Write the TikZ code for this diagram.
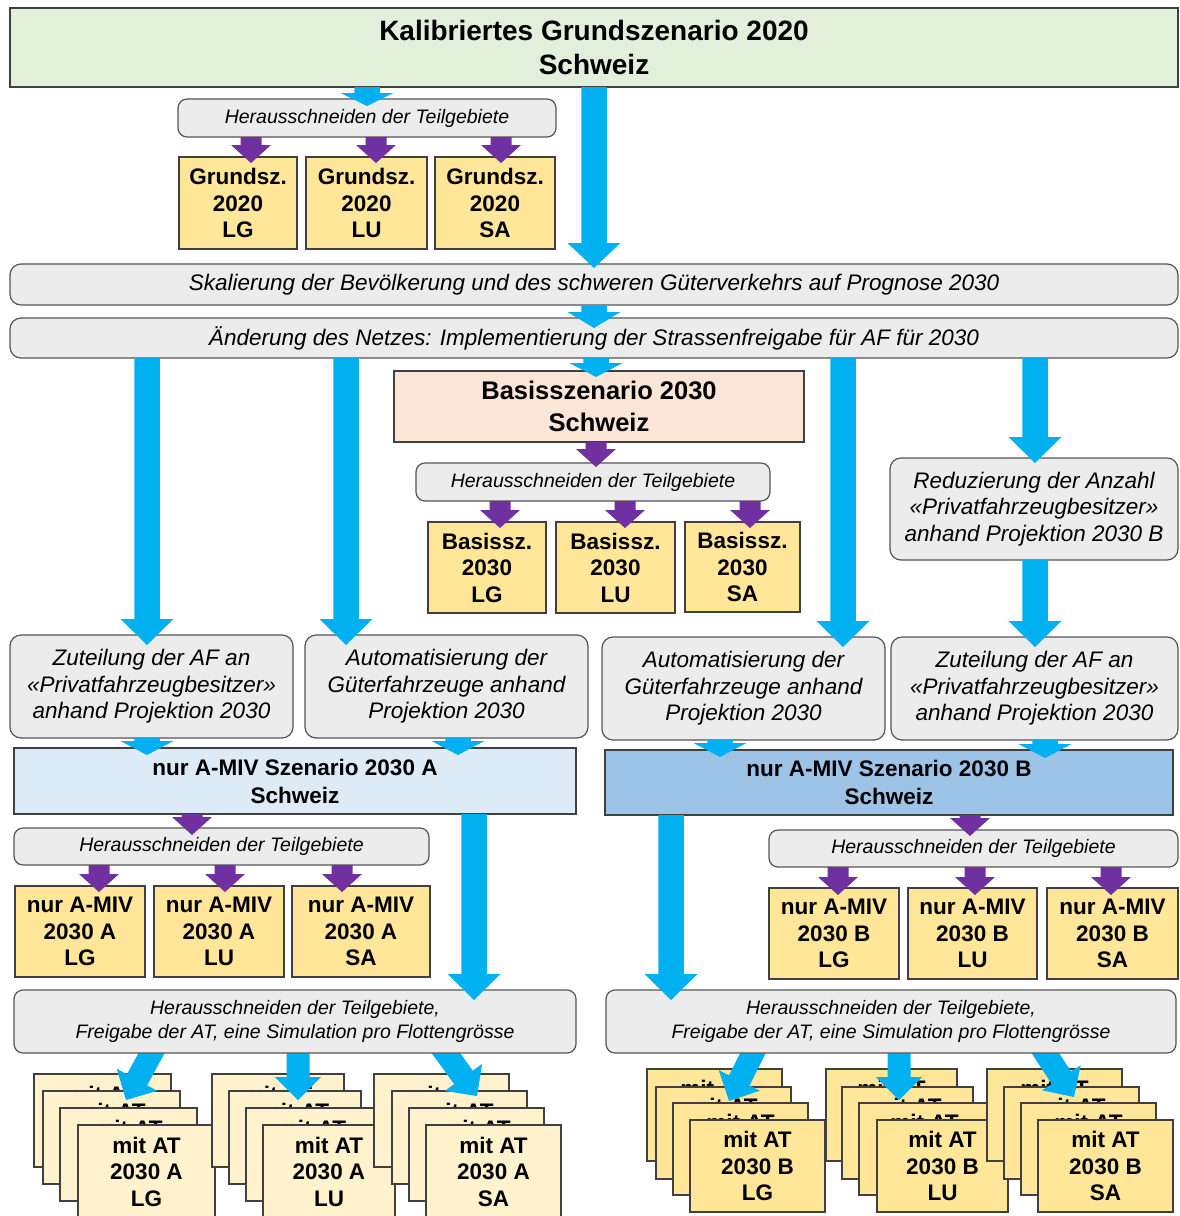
\documentclass[tikz,border=0pt]{standalone}
\usepackage{fontspec}
\setmainfont{Liberation Sans}
\usetikzlibrary{calc}
\definecolor{cGreen}{RGB}{226,239,218}
\definecolor{cGray}{RGB}{236,236,236}
\definecolor{cYel}{RGB}{255,230,153}
\definecolor{cLYel}{RGB}{255,242,204}
\definecolor{cPeach}{RGB}{251,229,214}
\definecolor{cLBlue}{RGB}{221,235,247}
\definecolor{cMBlue}{RGB}{157,195,230}
\definecolor{cArrB}{RGB}{0,176,240}
\definecolor{cArrP}{RGB}{112,48,160}
\definecolor{cLine}{RGB}{64,64,64}
\definecolor{cGLine}{RGB}{85,85,85}
\pgfdeclarelayer{stack}
\pgfdeclarelayer{botarr}
\pgfdeclarelayer{front}
\pgfsetlayers{stack,botarr,main,front}
\tikzset{
  base/.style={inner sep=0pt, outer sep=0pt, anchor=north west, align=center, line width=1.2pt},
  rectbox/.style={base, draw=cLine},
  grn/.style={rectbox, fill=cGreen, font=\fontsize{28}{34}\selectfont\bfseries},
  yel/.style={rectbox, fill=cYel, font=\fontsize{22.5}{26.5}\selectfont\bfseries},
  lyel/.style={rectbox, fill=cLYel, font=\fontsize{22.5}{26.5}\selectfont\bfseries},
  peach/.style={rectbox, fill=cPeach, font=\fontsize{25.5}{32}\selectfont\bfseries},
  lblue/.style={rectbox, fill=cLBlue, font=\fontsize{22.5}{28}\selectfont\bfseries},
  mblue/.style={rectbox, fill=cMBlue, font=\fontsize{22.5}{28}\selectfont\bfseries},
  gbox/.style={base, draw=cGLine, fill=cGray, rounded corners=11pt, font=\fontsize{22.5}{26.5}\selectfont\itshape},
  gsmall/.style={base, draw=cGLine, fill=cGray, rounded corners=9pt, font=\fontsize{19.5}{24}\selectfont\itshape},
}
% box by corners: name, x1, y1, x2, y2, style, text
\newcommand\bx[7]{\node[#6, minimum width={#4-#2}, minimum height={#5-#3}] (#1) at (#2,#3) {#7};}
% block arrow between two named coordinates
\newcommand\blockarr[6]{%
  \coordinate (ba-h) at ($(#2)!#6pt!(#1)$);
  \fill[#3] ($(#1)!#4pt!90:(#2)$) -- ($(ba-h)!#4pt!90:(#2)$) -- ($(ba-h)!#5pt!90:(#2)$) -- (#2)
    -- ($(ba-h)!#5pt!-90:(#2)$) -- ($(ba-h)!#4pt!-90:(#2)$) -- ($(#1)!#4pt!-90:(#2)$) -- cycle;}
% vertical arrow: src, tgt, x, depth, shaft half, head half, head length, colour
\newcommand\varr[8]{%
  \coordinate (va-s) at (#1.south -| #3,0);
  \coordinate (va-e) at ($(#2.north -| #3,0)+(0,#4)$);
  \blockarr{va-s}{va-e}{#8}{#5}{#6}{#7}}
\newcommand\bv[5]{\varr{#1}{#2}{#3}{#4}{12.75}{26.5}{#5}{cArrB}}
\newcommand\pv[4]{\varr{#1}{#2}{#3}{#4}{10.5}{20}{18}{cArrP}}
% bottom arrow: src, x, target node, dx, dy
\newcommand\darr[5]{%
  \coordinate (da-s) at ($(#1.south -| #2,0)+(0,-8)$);
  \coordinate (da-e) at ($(#3.north west)+(#4,#5)$);
  \blockarr{da-s}{da-e}{cArrB}{11.5}{23}{23}}
\begin{document}
\begin{tikzpicture}[x=1pt,y=-1pt]
\useasboundingbox (0,0) rectangle (1179,1216);
\begin{pgfonlayer}{stack}
\fill[white] (0,0) rectangle (1179,1216);
\end{pgfonlayer}
% main boxes
\bx{top}{10}{8}{1178}{87}{grn}{Kalibriertes Grundszenario 2020\\Schweiz}
\bx{h1}{178}{99}{556}{137}{gsmall}{Herausschneiden der Teilgebiete}
\bx{g1}{179}{157}{297}{249}{yel}{Grundsz.\\2020\\LG}
\bx{g2}{306}{157}{427}{249}{yel}{Grundsz.\\2020\\LU}
\bx{g3}{435}{157}{555}{249}{yel}{Grundsz.\\2020\\SA}
\bx{skal}{10}{264}{1178}{305}{gbox}{Skalierung der Bevölkerung und des schweren Güterverkehrs auf Prognose 2030}
\bx{aend}{10}{318}{1178}{358}{gbox}{Änderung des Netzes: Implementierung der Strassenfreigabe für AF für 2030}
\bx{basis}{394}{371}{804}{442}{peach}{Basisszenario 2030\\Schweiz}
\bx{h2}{416}{463}{770}{501}{gsmall}{Herausschneiden der Teilgebiete}
\bx{b1}{428}{522}{546}{613}{yel}{Basissz.\\2030\\LG}
\bx{b2}{556}{522}{675}{613}{yel}{Basissz.\\2030\\LU}
\bx{b3}{685}{522}{800}{612}{yel}{Basissz.\\2030\\SA}
\bx{red}{890}{458}{1178}{560}{gbox}{Reduzierung der Anzahl\\«Privatfahrzeugbesitzer»\\anhand Projektion 2030 B}
\bx{zA}{10}{635}{293}{738}{gbox}{Zuteilung der AF an\\«Privatfahrzeugbesitzer»\\anhand Projektion 2030}
\bx{autA}{305}{635}{588}{738}{gbox}{Automatisierung der\\Güterfahrzeuge anhand\\Projektion 2030}
\bx{autB}{602}{637}{885}{740}{gbox}{Automatisierung der\\Güterfahrzeuge anhand\\Projektion 2030}
\bx{zB}{891}{637}{1178}{740}{gbox}{Zuteilung der AF an\\«Privatfahrzeugbesitzer»\\anhand Projektion 2030}
\bx{mivA}{14}{748}{576}{814}{lblue}{nur A-MIV Szenario 2030 A\\Schweiz}
\bx{mivB}{605}{750}{1173}{815}{mblue}{nur A-MIV Szenario 2030 B\\Schweiz}
\bx{hA}{14}{828}{429}{865}{gsmall}{Herausschneiden der Teilgebiete}
\bx{mA1}{15}{886}{145}{977}{yel}{nur A-MIV\\2030 A\\LG}
\bx{mA2}{154}{886}{284}{977}{yel}{nur A-MIV\\2030 A\\LU}
\bx{mA3}{292}{886}{430}{977}{yel}{nur A-MIV\\2030 A\\SA}
\bx{fA}{14}{990}{576}{1053}{gsmall}{Herausschneiden der Teilgebiete,\\Freigabe der AT, eine Simulation pro Flottengrösse}
\bx{hB}{769}{830}{1178}{867}{gsmall}{Herausschneiden der Teilgebiete}
\bx{mB1}{769}{888}{899}{979}{yel}{nur A-MIV\\2030 B\\LG}
\bx{mB2}{908}{888}{1037}{979}{yel}{nur A-MIV\\2030 B\\LU}
\bx{mB3}{1047}{888}{1178}{979}{yel}{nur A-MIV\\2030 B\\SA}
\bx{fB}{606}{990}{1176}{1053}{gsmall}{Herausschneiden der Teilgebiete,\\Freigabe der AT, eine Simulation pro Flottengrösse}
% stacks of result boxes
\begin{pgfonlayer}{stack}
\bx{aLG1}{34}{1074}{171}{1167}{lyel}{mit AT\\2030 A\\LG}
\bx{aLG2}{43}{1091}{180}{1184}{lyel}{mit AT\\2030 A\\LG}
\bx{aLG3}{60}{1108}{197}{1201}{lyel}{mit AT\\2030 A\\LG}
\bx{aLG4}{78}{1125}{215}{1218}{lyel}{mit AT\\2030 A\\LG}
\bx{aLU1}{212}{1074}{344}{1167}{lyel}{mit AT\\2030 A\\LU}
\bx{aLU2}{229}{1091}{361}{1184}{lyel}{mit AT\\2030 A\\LU}
\bx{aLU3}{246}{1108}{378}{1201}{lyel}{mit AT\\2030 A\\LU}
\bx{aLU4}{263}{1125}{395}{1218}{lyel}{mit AT\\2030 A\\LU}
\bx{aSA1}{374}{1074}{509}{1167}{lyel}{mit AT\\2030 A\\SA}
\bx{aSA2}{392}{1091}{527}{1184}{lyel}{mit AT\\2030 A\\SA}
\bx{aSA3}{409}{1108}{544}{1201}{lyel}{mit AT\\2030 A\\SA}
\bx{aSA4}{426}{1125}{561}{1218}{lyel}{mit AT\\2030 A\\SA}
\bx{bLG1}{647}{1069}{782}{1161}{yel}{mit AT\\2030 B\\LG}
\bx{bLG2}{656}{1087}{791}{1179}{yel}{mit AT\\2030 B\\LG}
\bx{bLG3}{673}{1103}{808}{1195}{yel}{mit AT\\2030 B\\LG}
\bx{bLG4}{690}{1120}{825}{1212}{yel}{mit AT\\2030 B\\LG}
\bx{bLU1}{826}{1069}{957}{1161}{yel}{mit AT\\2030 B\\LU}
\bx{bLU2}{842}{1087}{973}{1179}{yel}{mit AT\\2030 B\\LU}
\bx{bLU3}{859}{1103}{990}{1195}{yel}{mit AT\\2030 B\\LU}
\bx{bLU4}{877}{1120}{1008}{1212}{yel}{mit AT\\2030 B\\LU}
\bx{bSA1}{987}{1069}{1122}{1161}{yel}{mit AT\\2030 B\\SA}
\bx{bSA2}{1004}{1087}{1139}{1179}{yel}{mit AT\\2030 B\\SA}
\bx{bSA3}{1021}{1103}{1156}{1195}{yel}{mit AT\\2030 B\\SA}
\bx{bSA4}{1038}{1120}{1173}{1212}{yel}{mit AT\\2030 B\\SA}
\end{pgfonlayer}
% arrows into the stacks
\begin{pgfonlayer}{botarr}
\darr{fA}{156}{aLG1}{92}{26}
\darr{fA}{298}{aLU1}{86}{26}
\darr{fA}{440}{aSA1}{103}{22}
\darr{fB}{757}{bLG1}{82}{32}
\darr{fB}{899}{bLU1}{73}{31}
\darr{fB}{1040}{bSA1}{87}{28}
\end{pgfonlayer}
% other arrows
\begin{pgfonlayer}{front}
\bv{top}{h1}{367}{7}{13}
\bv{top}{skal}{594}{4}{25}
\bv{skal}{aend}{594}{10}{16}
\bv{aend}{zA}{147}{10}{26}
\bv{aend}{autA}{346}{10}{26}
\bv{aend}{basis}{596}{6}{14}
\bv{aend}{autB}{843}{10}{26}
\bv{aend}{red}{1035}{5}{26}
\bv{red}{zB}{1035}{10}{26}
\bv{zA}{mivA}{147}{7}{14}
\bv{autA}{mivA}{458}{7}{14}
\bv{autB}{mivB}{720}{7}{14}
\bv{zB}{mivB}{1045}{8}{14}
\bv{mivA}{fA}{474}{10}{26}
\bv{mivB}{fB}{671}{10}{26}
\pv{h1}{g1}{251}{6}
\pv{h1}{g2}{376}{6}
\pv{h1}{g3}{501}{6}
\pv{basis}{h2}{596}{4}
\pv{h2}{b1}{500}{6}
\pv{h2}{b2}{625}{6}
\pv{h2}{b3}{750}{6}
\pv{mivA}{hA}{192}{7}
\pv{hA}{mA1}{99}{6}
\pv{hA}{mA2}{225}{6}
\pv{hA}{mA3}{342}{6}
\pv{mivB}{hB}{970}{6}
\pv{hB}{mB1}{838}{7}
\pv{hB}{mB2}{975}{7}
\pv{hB}{mB3}{1111}{7}
\end{pgfonlayer}
\end{tikzpicture}
\end{document}
